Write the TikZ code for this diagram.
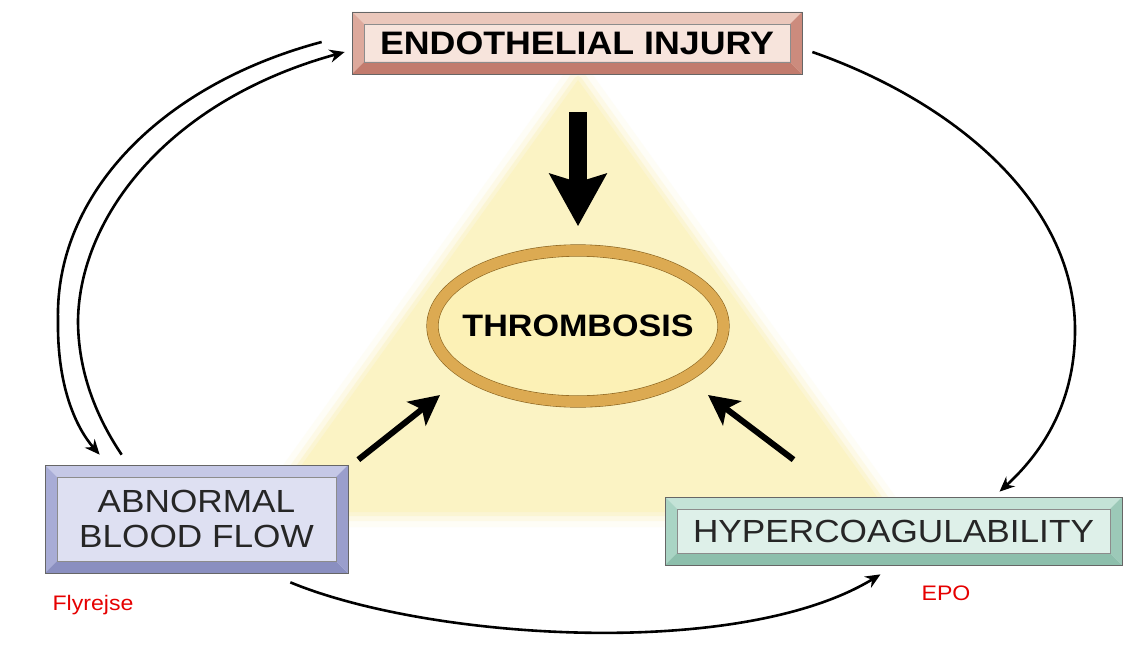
\documentclass[tikz,border=0pt]{standalone}
\usepackage{fontspec}
\setmainfont{Liberation Sans}[FakeStretch=1.1]
\usetikzlibrary{arrows.meta,shapes.geometric}
\definecolor{endoface}{HTML}{F7E4DC}
\definecolor{endotop}{HTML}{EBC7BB}
\definecolor{endoleft}{HTML}{DDA99C}
\definecolor{endobot}{HTML}{C27B6D}
\definecolor{endoright}{HTML}{CC8B7D}
\definecolor{flowface}{HTML}{DEE0F2}
\definecolor{flowtop}{HTML}{C5C8E6}
\definecolor{flowleft}{HTML}{A8ACD6}
\definecolor{flowbot}{HTML}{8A8FC0}
\definecolor{flowright}{HTML}{9A9ECC}
\definecolor{coagface}{HTML}{DEF0E9}
\definecolor{coagtop}{HTML}{C4E3D7}
\definecolor{coagleft}{HTML}{A9D4C4}
\definecolor{coagbot}{HTML}{8DBFAC}
\definecolor{coagright}{HTML}{9CC9B8}
\definecolor{glow}{HTML}{FBF3C4}
\definecolor{ovalfill}{HTML}{FCF1B6}
\definecolor{ringgold}{HTML}{DCAA52}
\definecolor{ringline}{HTML}{8A6420}
\definecolor{notered}{HTML}{E60000}
\begin{document}
\begin{tikzpicture}[x=1pt,y=-1pt,
    bevelbox/.style n args={5}{rectangle, fill=#1, draw=black!60, line width=0.7pt, inner sep=0pt,
      path picture={
        \coordinate (oa) at (path picture bounding box.south west);
        \coordinate (ob) at (path picture bounding box.north east);
        \coordinate (ia) at ([shift={(12pt,12pt)}]path picture bounding box.south west);
        \coordinate (ib) at ([shift={(-12pt,-12pt)}]path picture bounding box.north east);
        \fill[#2] (oa |- ob) -- (ob) -- (ib) -- (ia |- ib) -- cycle;
        \fill[#3] (oa) -- (oa |- ob) -- (ia |- ib) -- (ia) -- cycle;
        \fill[#4] (oa) -- (ob |- oa) -- (ib |- ia) -- (ia) -- cycle;
        \fill[#5] (ob |- oa) -- (ob) -- (ib) -- (ib |- ia) -- cycle;
        \draw[black!45, line width=0.5pt] (ia) rectangle (ib);
      }},
    boldtext/.style={font=\bfseries\fontsize{32.5}{38}\selectfont, text=black},
    plaintext/.style={font=\fontsize{32}{35}\selectfont, text=black!85, align=center},
    note/.style={font=\fontsize{21}{24}\selectfont, text=notered},
    thinarrow/.style={line width=2.6pt, -{Stealth[length=15pt,width=13pt]}},
    midarrow/.style={line width=6pt, -{Stealth[length=30pt,width=30pt,inset=7pt]}},
    bigarrow/.style={line width=18pt, -{Stealth[length=52pt,width=56pt,inset=8pt]}}]
  \fill[white] (0,0) rectangle (1142,650);
  \useasboundingbox (0,0) rectangle (1142,650);
  \foreach \w/\o in {30/0.15, 18/0.3, 8/0.55}
    \draw[glow, line width=\w pt, opacity=\o, line join=round] (578,80) -- (268,512) -- (888,512) -- cycle;
  \fill[glow] (578,80) -- (268,512) -- (888,512) -- cycle;

  \node[bevelbox={endoface}{endotop}{endoleft}{endobot}{endoright}, minimum width=450pt, minimum height=62pt, boldtext] (endo) at (577,43) {ENDOTHELIAL INJURY};
  \node[bevelbox={flowface}{flowtop}{flowleft}{flowbot}{flowright}, minimum width=303pt, minimum height=108pt, plaintext] (flow) at (196.5,519) {ABNORMAL\\BLOOD FLOW};
  \node[bevelbox={coagface}{coagtop}{coagleft}{coagbot}{coagright}, minimum width=457pt, minimum height=68pt, plaintext] (coag) at (893.5,531) {HYPERCOAGULABILITY};
  \node[ellipse, fill=ovalfill, draw=ringline, line width=0.6pt, double=ringgold, double distance=11pt, minimum width=291pt, minimum height=151pt, inner sep=0pt,
    label={[name=thrombtext, boldtext, font=\bfseries\fontsize{31}{36}\selectfont]center:THROMBOSIS}] (thromb) at (578,326) {};
  \node[note] (flight) at (93,605) {Flyrejse};
  \node[note] (epo) at (946,593) {EPO};

  \draw[bigarrow] ([shift={(1,38)}]endo.south) -- ([shift={(0,-24)}]thromb.north);
  \draw[midarrow] ([shift={(10,-5)}]flow.north east) -- ([shift={(-138,69)}]thromb.center);
  \draw[midarrow] ([shift={(-100,-37)}]coag.north) -- ([shift={(130,69)}]thromb.center);

  \draw[thinarrow] ([shift={(-30,-1)}]endo.west) .. controls (160,85) and (55,195) .. (58,320)
    .. controls (57,390) and (78,430) .. ([shift={(55,-10)}]flow.north west);
  \draw[thinarrow] ([shift={(77,-10)}]flow.north west) .. controls (95,415) and (78,370) .. (78,320)
    .. controls (80,215) and (170,100) .. ([shift={(-7,9)}]endo.west);
  \draw[thinarrow] ([shift={(10,9)}]endo.east) .. controls (950,100) and (1075,200) .. (1075,330)
    .. controls (1075,400) and (1045,450) .. ([shift={(106,-5)}]coag.north);
  \draw[thinarrow] ([shift={(-58,9)}]flow.south east) .. controls (430,640) and (740,660) .. ([shift={(-13,9)}]coag.south);
\end{tikzpicture}
\end{document}
